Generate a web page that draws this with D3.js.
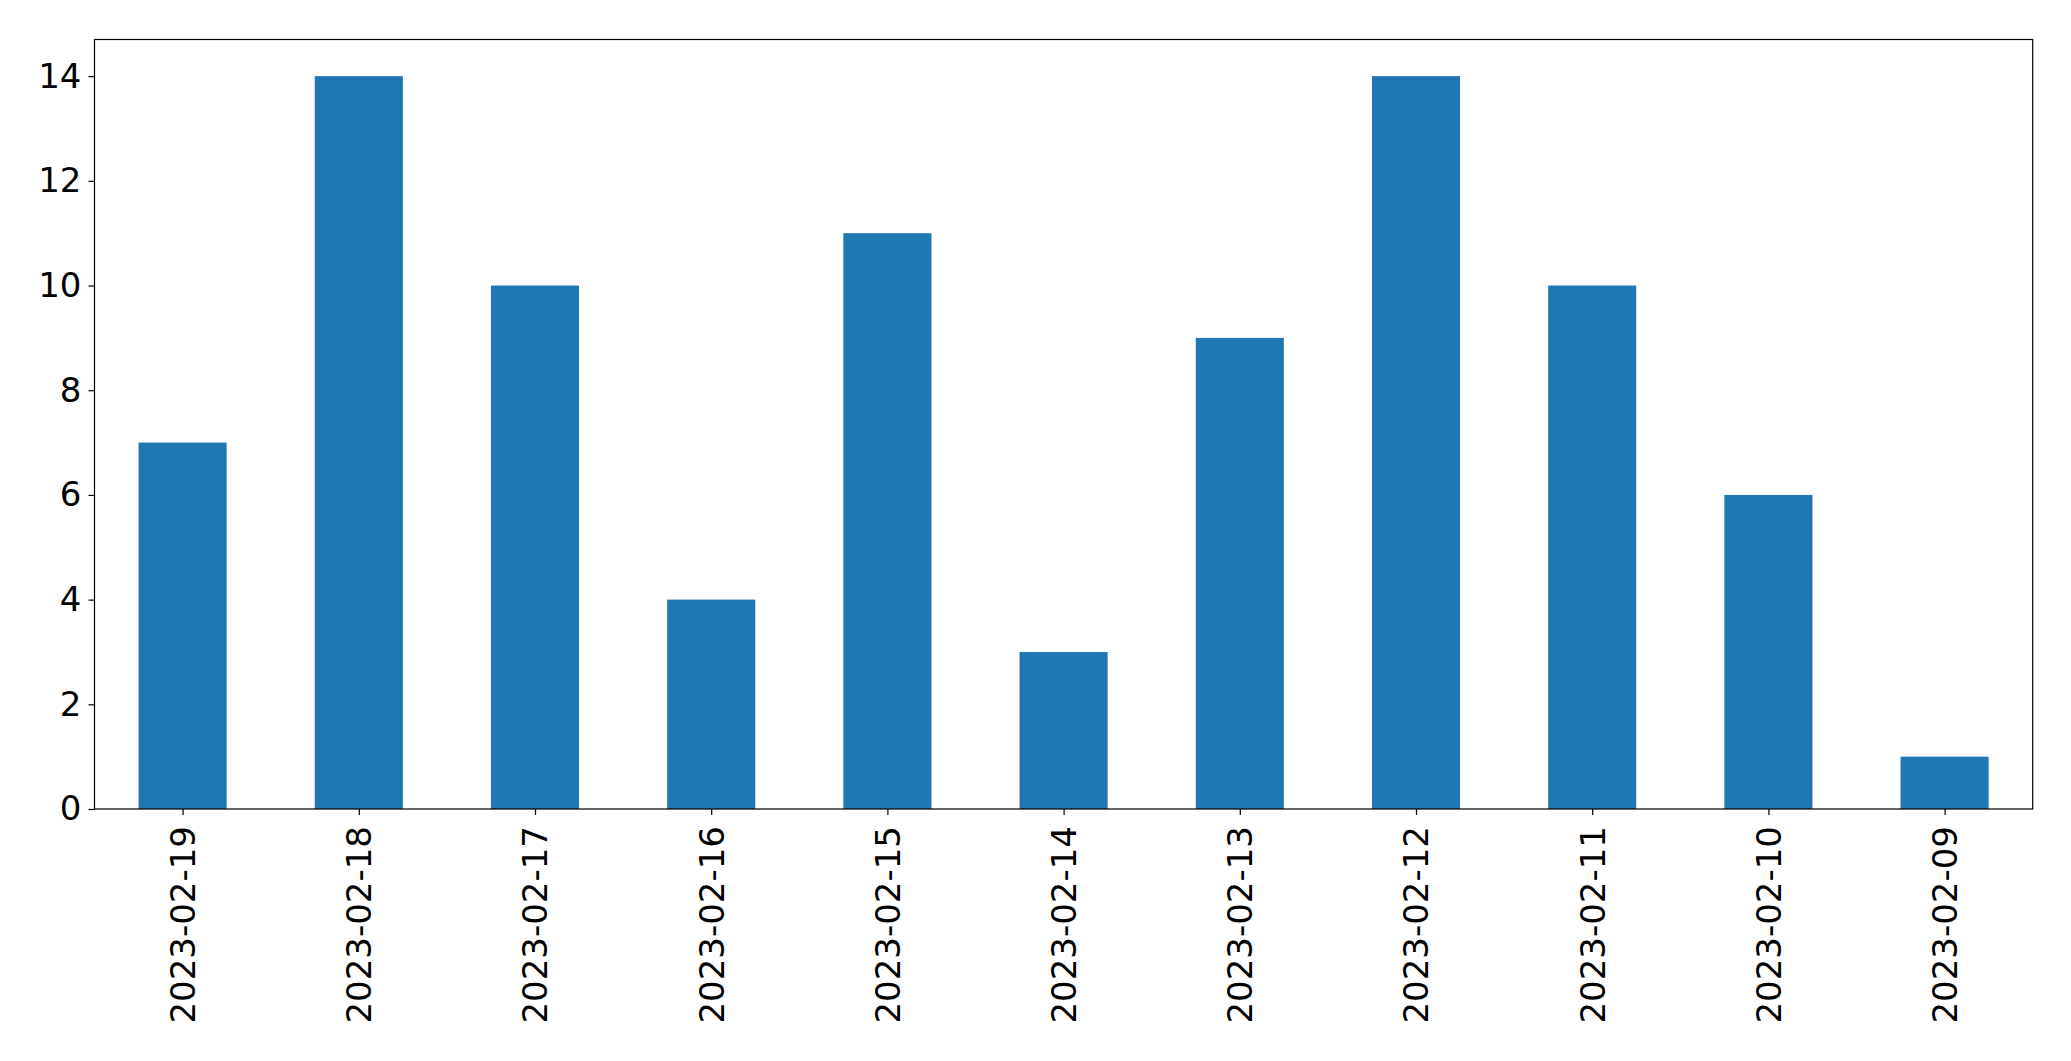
<!DOCTYPE html>
<html><head><meta charset="utf-8">
<script src="https://cdn.jsdelivr.net/npm/d3@7"></script>
<style>body{margin:0;background:#fff;} svg{display:block;} text{font-family:"DejaVu Sans",sans-serif;}</style>
</head><body>
<script>
const categories = ["2023-02-19","2023-02-18","2023-02-17","2023-02-16","2023-02-15","2023-02-14","2023-02-13","2023-02-12","2023-02-11","2023-02-10","2023-02-09"];
const values = [7,14,10,4,11,3,9,14,10,6,1];
const yTicks = [0,2,4,6,8,10,12,14];

const W = 2071, H = 1061;
const L = 94.5, R = 2032.7, T = 39.5, B = 809;
const svg = d3.select("body").append("svg").attr("width", W).attr("height", H);

const x = d3.scaleLinear().domain([-0.5, categories.length - 0.5]).range([L, R]);
const y = d3.scaleLinear().domain([0, 14.7]).range([B, T]);

svg.append("g").selectAll("rect").data(values).join("rect")
  .attr("x", (d,i) => x(i - 0.25))
  .attr("width", (d,i) => x(i + 0.25) - x(i - 0.25))
  .attr("y", d => y(d))
  .attr("height", d => y(0) - y(d))
  .attr("fill", "#1f77b4");

const yAxis = svg.append("g").attr("transform", `translate(${L},0)`)
  .call(d3.axisLeft(y).tickValues(yTicks).tickSize(6).tickPadding(7).tickFormat(d3.format("d")));
yAxis.select(".domain").remove();
yAxis.selectAll("text").attr("font-size", 34).attr("fill", "#000");
yAxis.selectAll("line").attr("stroke", "#000").attr("stroke-width", 1.2);

const xAxis = svg.append("g").attr("transform", `translate(0,${B})`)
  .call(d3.axisBottom(x).tickValues(d3.range(categories.length)).tickSize(6).tickFormat(i => categories[i]));
xAxis.select(".domain").remove();
xAxis.selectAll("line").attr("stroke", "#000").attr("stroke-width", 1.2);
xAxis.selectAll("text")
  .attr("font-size", 34).attr("fill", "#000")
  .attr("text-anchor", "end")
  .attr("transform", "rotate(-90)")
  .attr("x", -17).attr("y", 0).attr("dy", "0.35em");

svg.append("rect").attr("x", L).attr("y", T).attr("width", R - L).attr("height", B - T)
  .attr("fill", "none").attr("stroke", "#000").attr("stroke-width", 1.2);
</script>
</body></html>
